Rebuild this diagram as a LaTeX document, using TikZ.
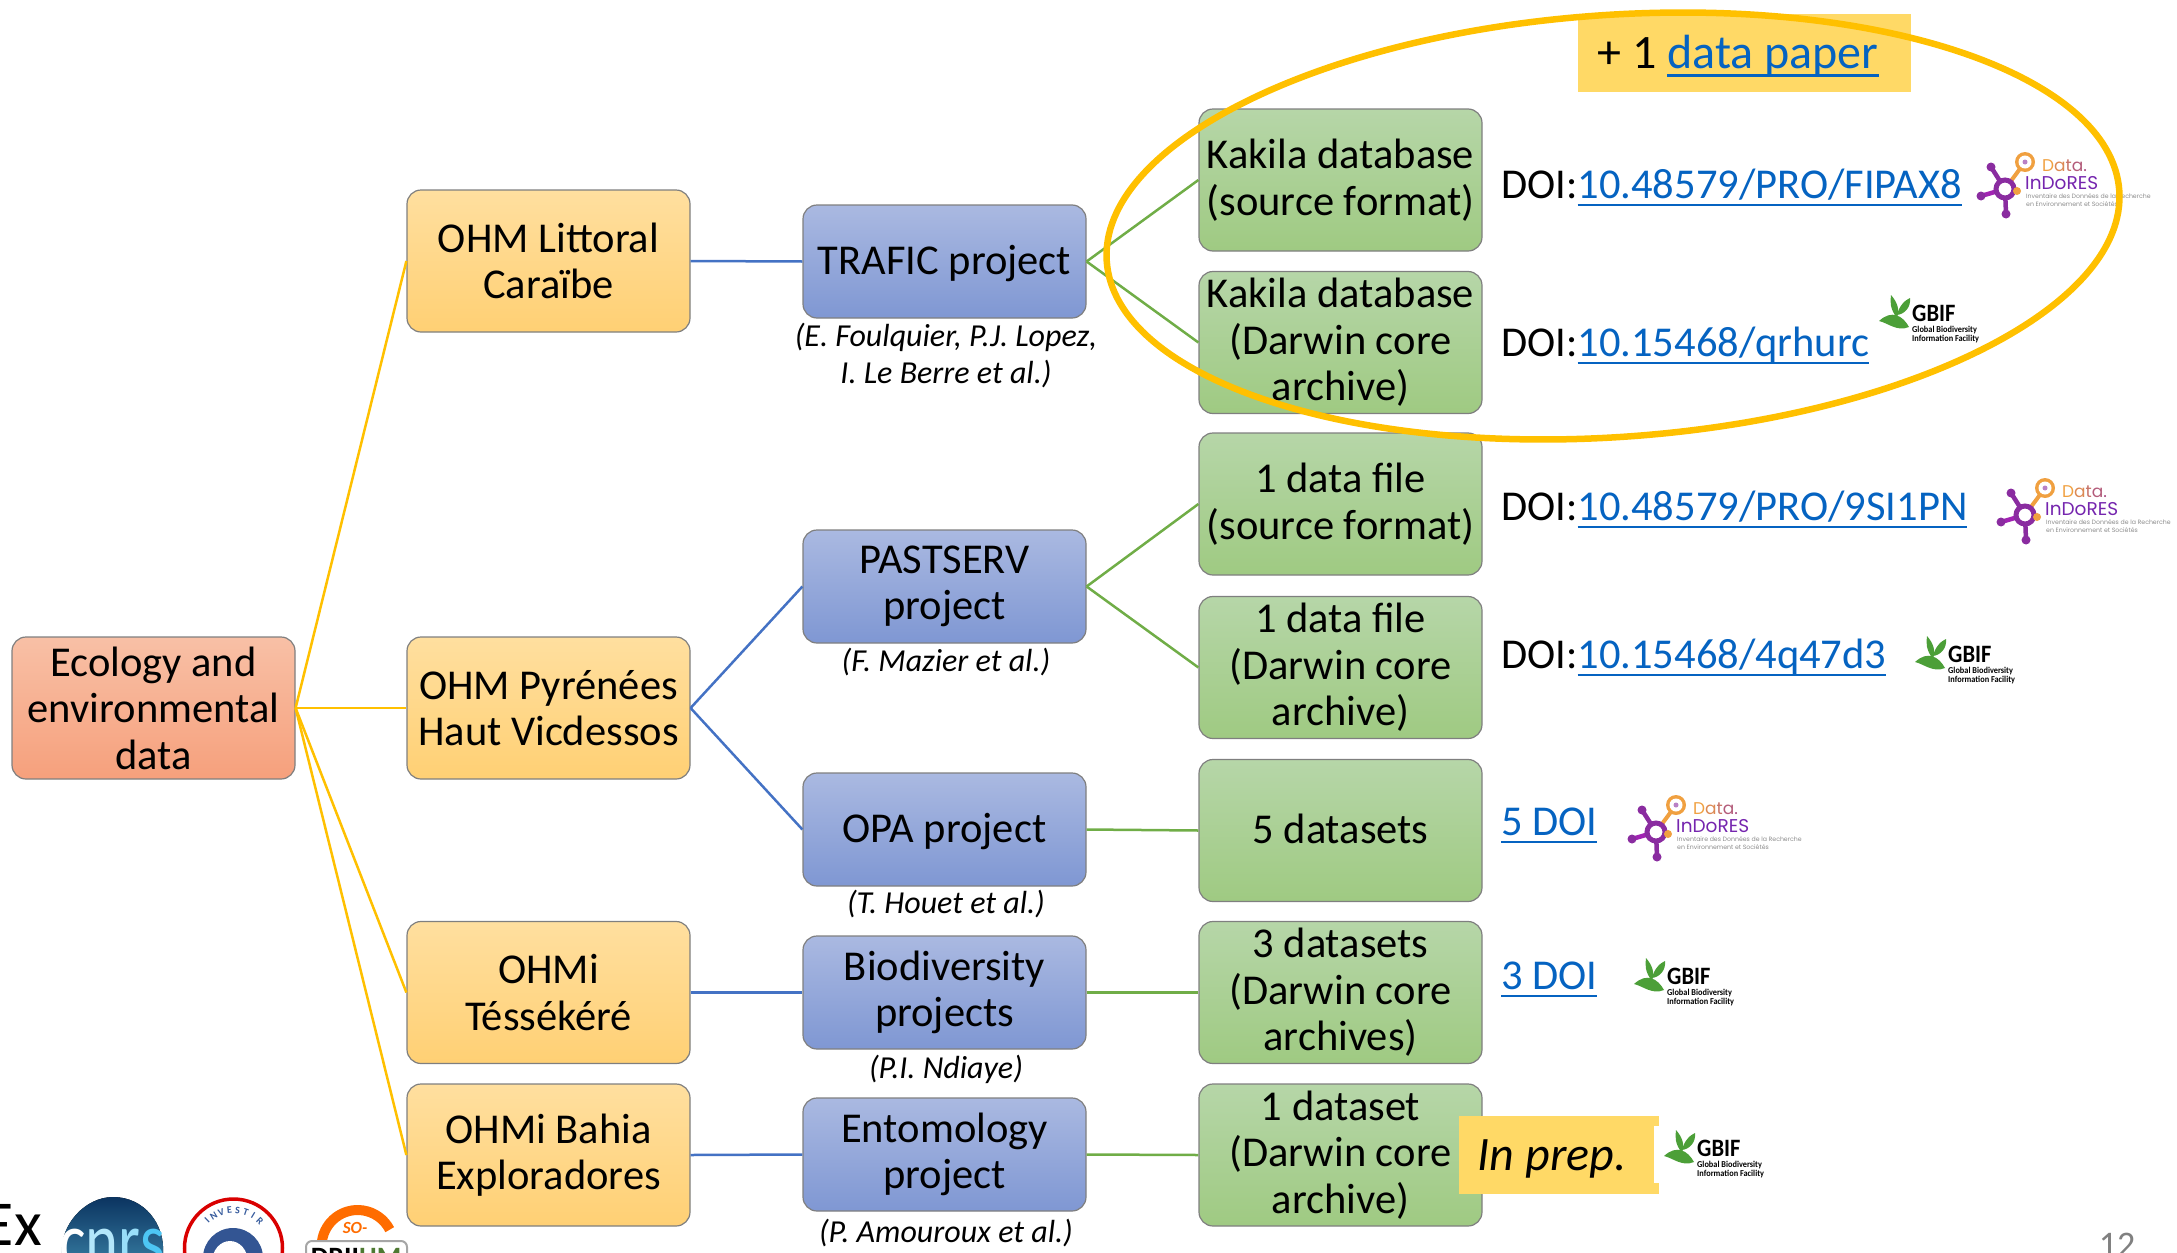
\documentclass[tikz,border=0pt]{standalone}
\usepackage{fontspec}
\usepackage{graphicx}
\setmainfont{Carlito}
\newfontfamily\logofont{Poppins}
\usetikzlibrary{shapes.geometric,calc}
\definecolor{linkblue}{HTML}{0563C1}
\definecolor{hlyellow}{HTML}{FFD966}
\definecolor{ringgold}{HTML}{FFC000}
\definecolor{lineblue}{HTML}{4472C4}
\definecolor{linegreen}{HTML}{70AD47}
\definecolor{boxedge}{HTML}{7F7F7F}
\definecolor{molpurple}{HTML}{8A2CA0}
\definecolor{molorange}{HTML}{F0A040}
\definecolor{gbifgreen}{HTML}{4C9F38}
\definecolor{roottop}{HTML}{F8C0A6}
\definecolor{rootbot}{HTML}{F6A07C}
\definecolor{onetop}{HTML}{FFDF9F}
\definecolor{onebot}{HTML}{FFD074}
\definecolor{twotop}{HTML}{AAB9E1}
\definecolor{twobot}{HTML}{7F97D3}
\definecolor{threetop}{HTML}{B6D6A8}
\definecolor{threebot}{HTML}{9FCA82}
\definecolor{cnrstop}{HTML}{0B3460}
\definecolor{cnrsbot}{HTML}{2F6F96}
\newcommand{\lnk}[1]{\textcolor{linkblue}{\setbox0\hbox{#1}\rlap{\rule[-.19em]{\wd0}{.06em}}\box0}}
\tikzset{
  boxbase/.style={draw=boxedge,line width=1.2pt,rounded corners=14pt,minimum width=283pt,inner sep=0pt,align=center,
    font=\fontsize{42.5}{46.5}\selectfont,text=black},
  rootbox/.style={boxbase,top color=roottop,bottom color=rootbot,minimum height=142pt},
  oneb/.style={boxbase,top color=onetop,bottom color=onebot,minimum height=142pt},
  twob/.style={boxbase,top color=twotop,bottom color=twobot,minimum height=113pt},
  threeb/.style={boxbase,top color=threetop,bottom color=threebot,minimum height=142pt},
  oneline/.style={text height=33pt,text depth=7pt},
  nudge/.style={execute at begin node={\vspace*{#1}}},
  goldline/.style={draw=ringgold,line width=2.5pt},
  blueline/.style={draw=lineblue,line width=2.5pt},
  greenline/.style={draw=linegreen,line width=2.5pt},
  doitext/.style={anchor=base west,inner sep=0pt,font=\fontsize{42.5}{46}\selectfont},
  authortext/.style={inner sep=0pt,align=center,font=\fontsize{32}{37}\selectfont\itshape},
  hlbox/.style={fill=hlyellow,inner sep=0pt},
  pics/indores/.style={code={
    \draw[molpurple,line width=4.5pt] (0,0)--(-14,-22);
    \draw[molpurple!80!magenta,line width=4.5pt] (0,0)--(-24,7);
    \draw[molpurple,line width=4.5pt] (0,0)--(1,25);
    \draw[molorange,line width=4pt] (0,0)--(20,-27);
    \fill[molpurple] (-14,-22) circle (4.5pt) (-24,7) circle (4.5pt) (1,25) circle (4.5pt);
    \draw[molpurple,line width=5pt,fill=white] (0,0) circle (9pt);
    \fill[molorange] (12,2) circle (4pt);
    \fill[molorange] (20,-27) circle (10pt);
    \fill[white] (20,-27) circle (6.5pt);
    \fill[molpurple!60] (20,-27) circle (2.5pt);
    \node[anchor=base west,inner sep=0pt,font=\logofont\fontsize{17}{17}\selectfont\addfontfeature{LetterSpace=25}] (-d) at (37,-18)
      {\textcolor{molorange}{D}\textcolor{molorange!80!molpurple}{a}\textcolor{molorange!60!molpurple}{t}\textcolor{molorange!40!molpurple}{a}\textcolor{molorange!30!molpurple}{.}};
    \node[anchor=base west,inner sep=0pt,text=molpurple!85!blue,font=\logofont\fontsize{18.5}{18}\selectfont] (-i) at (20,0) {InDoRES};
    \node[anchor=base west,inner sep=0pt,text=black!45,font=\logofont\fontsize{6.2}{8}\selectfont] (-a) at (21,9) {Inventaire des Données de la Recherche};
    \node[anchor=base west,inner sep=0pt,text=black!45,font=\logofont\fontsize{6.2}{8}\selectfont] (-b) at (21,17) {en Environnement et Sociétés};
  }},
  pics/gbif/.style={code={
    \fill[gbifgreen] (-33,9) .. controls (-20,-3) and (-9,4) .. (-3,15) .. controls (-15,20) and (-24,11) .. (-33,9) -- cycle;
    \fill[gbifgreen] (-15,6) .. controls (-22,-3) and (-22,-10) .. (-21,-17) .. controls (-15,-10) and (-12,-3) .. (-15,6) -- cycle;
    \fill[gbifgreen] (-15,3) .. controls (-13,-6) and (-7,-12) .. (-2,-14) .. controls (-1,-5) and (-7,2) .. (-15,3) -- cycle;
    \node[anchor=base west,inner sep=0pt,font=\fontsize{25}{25}\selectfont\bfseries] (-t) at (0,9) {\scalebox{.9}[1]{GBIF}};
    \node[anchor=base west,inner sep=0pt,font=\fontsize{9}{9}\selectfont\bfseries] (-a) at (0,20) {\scalebox{.92}[1]{Global Biodiversity}};
    \node[anchor=base west,inner sep=0pt,font=\fontsize{9}{9}\selectfont\bfseries] (-b) at (0,29) {\scalebox{.92}[1]{Information Facility}};
  }},
}
\begin{document}
\begin{tikzpicture}[x=1pt,y=-1pt]
\useasboundingbox (0,0) rectangle (2177,1253);
% bottom-left logos
\node[anchor=base east,inner sep=0pt,font=\fontsize{64}{64}\selectfont] (exlabel) at (42,1245) {Ex};
\fill[top color=cnrstop,bottom color=cnrsbot] (62,1253) .. controls (60,1225) and (85,1197) .. (113,1197) .. controls (145,1197) and (165,1225) .. (163,1253) -- cycle;
\node[anchor=base,inner sep=0pt,font=\fontsize{66}{66}\selectfont] (cnrslabel) at (112,1267) {\scalebox{.95}[1.2]{\textcolor{white}{c}\textcolor{white!70!cyan}{n}\textcolor{cyan!40!white}{r}\textcolor{cyan!70!white}{s}}};
\draw[red!85!black,line width=3.5pt,fill=white] (233.5,1248) circle (49pt);
\foreach \L [count=\i] in {I,N,V,E,S,T,I,R}{
  \pgfmathsetmacro{\ang}{90+44-(\i-1)*88/7}
  \node[inner sep=0pt,rotate=\ang-90,text=lineblue!80!black,font=\fontsize{10}{10}\selectfont\bfseries] (inv\i) at ($(233.5,1248)+(\ang:38pt)$) {\L};
}
\fill[lineblue!75!black] (233,1258) circle (30pt);
\fill[white] (230,1262) ellipse (18pt and 21pt);
\draw[line width=10pt,color=orange!85!red] (322,1241) arc[start angle=172,end angle=27,radius=36pt];
\node[inner sep=0pt,font=\fontsize{17}{17}\selectfont\bfseries\itshape,text=orange!85!red] (solabel) at (355,1228) {SO-};
\draw[black!35,line width=2pt,fill=white,rounded corners=6pt] (306,1275) rectangle (407,1241);
\node[anchor=base,inner sep=0pt,font=\fontsize{28}{28}\selectfont\bfseries] (driihm) at (356,1266) {DRII\textcolor{linegreen!70!black}{HM}};
% boxes
\node[rootbox,nudge=-2.8pt] (root) at (153.5,708) {Ecology and\\environmental\\data};
\node[oneb] (a1) at (548.5,261) {OHM Littoral\\Caraïbe};
\node[oneb,nudge=-2.8pt] (a2) at (548.5,708) {OHM Pyrénées\\Haut Vicdessos};
\node[oneb,nudge=-2.8pt] (a3) at (548.5,992.5) {OHMi\\Téssékéré};
\node[oneb] (a4) at (548.5,1155) {OHMi Bahia\\Exploradores};
\node[twob,oneline] (b1) at (944.5,261.5) {TRAFIC project};
\node[twob,nudge=4pt] (b2) at (944.5,586.5) {PASTSERV\\project};
\node[twob,oneline] (b3) at (944.5,829.5) {OPA project};
\node[twob,nudge=4pt] (b4) at (944.5,992.5) {Biodiversity\\projects};
\node[twob,nudge=4pt] (b5) at (944.5,1154.5) {Entomology\\project};
\node[threeb,nudge=2.8pt] (c1) at (1340.5,180) {Kakila database\\(source format)};
\node[threeb,nudge=2.8pt] (c2) at (1340.5,342.5) {Kakila database\\(Darwin core\\archive)};
\node[threeb,nudge=3.5pt] (c3) at (1340.5,504) {1 data file\\(source format)};
\node[threeb,nudge=2.8pt] (c4) at (1340.5,667.5) {1 data file\\(Darwin core\\archive)};
\node[threeb,oneline] (c5) at (1340.5,830.5) {5 datasets};
\node[threeb,nudge=2.8pt] (c6) at (1340.5,992.5) {3 datasets\\(Darwin core\\archives)};
\node[threeb,nudge=1.4pt] (c7) at (1340.5,1155) {1 dataset\\(Darwin core\\archive)};
% connectors
\foreach \t in {a1,a2,a3,a4}{\draw[goldline] (root.east) -- (\t.west);}
\draw[blueline] (a1.east) -- (b1.west);
\draw[blueline] (a2.east) -- (b2.west);
\draw[blueline] (a2.east) -- (b3.west);
\draw[blueline] (a3.east) -- (b4.west);
\draw[blueline] (a4.east) -- (b5.west);
\draw[greenline] (b1.east) -- (c1.west);
\draw[greenline] (b1.east) -- (c2.west);
\draw[greenline] (b2.east) -- (c3.west);
\draw[greenline] (b2.east) -- (c4.west);
\draw[greenline] (b3.east) -- (c5.west);
\draw[greenline] (b4.east) -- (c6.west);
\draw[greenline] (b5.east) -- (c7.west);
% authors
\node[authortext] (t1) at (946,356) {(E. Foulquier, P.J. Lopez,\\I. Le Berre et al.)};
\node[authortext] (t2) at (946,662) {(F. Mazier et al.)};
\node[authortext] (t3) at (946,904) {(T. Houet et al.)};
\node[authortext] (t4) at (946,1069) {(P.I. Ndiaye)};
\node[authortext] (t5) at (946,1233) {(P. Amouroux et al.)};
% DOI
\node[doitext] (d1) at (1501,198) {DOI:\lnk{10.48579/PRO/FIPAX8}};
\node[doitext] (d2) at (1501,356) {DOI:\lnk{10.15468/qrhurc}};
\node[doitext] (d3) at (1501,520) {DOI:\lnk{10.48579/PRO/9SI1PN}};
\node[doitext] (d4) at (1501,668) {DOI:\lnk{10.15468/4q47d3}};
\node[doitext] (d5) at (1501,835) {\lnk{5 DOI}};
\node[doitext] (d6) at (1501,989) {\lnk{3 DOI}};
% logos
\pic (la) at (2005,189) {indores};
\pic (lb) at (2025,515) {indores};
\pic (lc) at (1656,832) {indores};
\pic (ga) at (1912,312) {gbif};
\pic (gb) at (1948,653) {gbif};
\pic (gc) at (1667,975) {gbif};
% highlights
\node[hlbox,minimum width=333pt,minimum height=78pt] (paperbox) at (1744.5,53) {};
\node[anchor=base,inner sep=0pt,font=\fontsize{48}{48}\selectfont] (paper) at (1738,68) {+ 1 \lnk{data paper}};
\node[hlbox,minimum width=200pt,minimum height=78pt] (prepbox) at (1559,1155) {};
\node[anchor=base,inner sep=0pt,font=\fontsize{48}{48}\selectfont\itshape] (prep) at (1552,1170) {In prep.};
\fill[white] (1654,1126) rectangle (1660,1183);
\pic (gd) at (1697,1147) {gbif};
% ellipse
\node[ellipse,draw=ringgold,line width=6.5pt,inner sep=0pt,minimum width=1015pt,minimum height=422pt,rotate=4] (ring) at (1613,226) {};
% page number
\node[anchor=base,inner sep=0pt,text=black!50,font=\fontsize{36}{36}\selectfont] (pg) at (2117,1256) {12};
\end{tikzpicture}
\end{document}
